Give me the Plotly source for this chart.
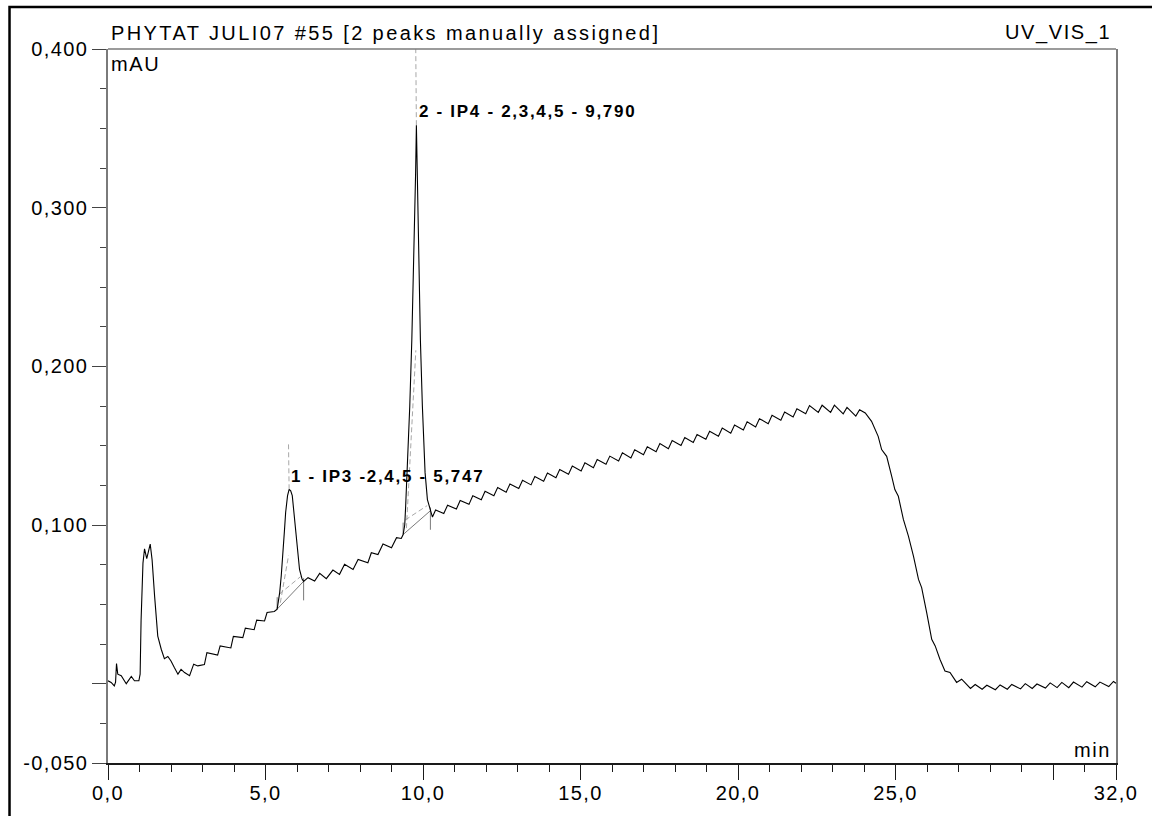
import plotly.graph_objects as go

# ---------------- data ----------------
TIME_MIN = [
    0.00, 0.10, 0.20, 0.24, 0.27, 0.31, 0.42, 0.58, 0.74, 0.84, 0.98, 1.02, 1.05, 1.11, 1.16, 1.23,
    1.34, 1.40, 1.48, 1.58, 1.69, 1.79, 1.90, 2.00, 2.11, 2.22, 2.32, 2.43, 2.59, 2.72, 2.85,
    3.06, 3.14, 3.30, 3.48, 3.56, 3.75, 3.90, 3.98, 4.28, 4.36, 4.64, 4.72, 4.97, 5.05, 5.28,
    5.37, 5.45, 5.50, 5.55, 5.60, 5.64, 5.70, 5.75, 5.80, 5.85, 5.92, 6.00, 6.08, 6.16, 6.21,
    6.35, 6.56, 6.72, 6.93, 7.14, 7.35, 7.51, 7.78, 7.94, 8.25, 8.36, 8.57, 8.73, 9.00, 9.16, 9.31,
    9.37, 9.42, 9.45, 9.50, 9.58, 9.645, 9.725, 9.765, 9.79, 9.82, 9.853, 9.917, 9.98, 10.066, 10.14, 10.235,
    10.30, 10.40, 10.66, 10.78, 11.06, 11.18, 11.46, 11.58, 11.85, 11.97, 12.25, 12.37, 12.64, 12.76,
    13.04, 13.16, 13.43, 13.55, 13.83, 13.95, 14.22, 14.34, 14.62, 14.74, 15.02, 15.14, 15.41, 15.53,
    15.81, 15.93, 16.21, 16.33, 16.60, 16.72, 17.00, 17.12, 17.40, 17.52, 17.79, 17.91, 18.19, 18.31,
    18.58, 18.70, 18.98, 19.10, 19.38, 19.50, 19.77, 19.89, 20.17, 20.29, 20.56, 20.68, 20.96, 21.08,
    21.36, 21.48, 21.75, 21.87, 22.15, 22.27, 22.55, 22.67, 22.94, 23.06, 23.34, 23.46, 23.74, 23.86,
    24.04, 24.24, 24.45, 24.56, 24.72, 24.88, 24.98, 25.09, 25.25, 25.41, 25.57, 25.73, 25.83, 25.99,
    26.15, 26.26, 26.41, 26.57, 26.73, 26.94, 27.10,
    27.38, 27.53, 27.75, 27.90, 28.17, 28.32, 28.55, 28.69, 28.97, 29.12, 29.34, 29.49, 29.76, 29.91,
    30.13, 30.28, 30.50, 30.65, 30.92, 31.07, 31.34, 31.49, 31.77, 31.92, 32.00,
]
SIGNAL_MAU = [
    0.0018, 0.0008, -0.0014, 0.0010, 0.0127, 0.0060, 0.0050, 0.0000, 0.0045, 0.0018, 0.0018, 0.0060, 0.0400, 0.0760, 0.0850, 0.0788,
    0.0880, 0.0780, 0.0550, 0.0300, 0.0217, 0.0158, 0.0171, 0.0143, 0.0100, 0.0060, 0.0090, 0.0070, 0.0050, 0.0123, 0.0112,
    0.0120, 0.0195, 0.0186, 0.0180, 0.0238, 0.0230, 0.0225, 0.0298, 0.0290, 0.0350, 0.0340, 0.0400, 0.0395, 0.0448, 0.0455,
    0.0470, 0.0574, 0.0680, 0.0800, 0.0960, 0.1080, 0.1185, 0.1225, 0.1215, 0.1185, 0.1055, 0.0867, 0.0720, 0.0660, 0.0645,
    0.0668, 0.0647, 0.0695, 0.0662, 0.0716, 0.0689, 0.0752, 0.0720, 0.0783, 0.0762, 0.0825, 0.0814, 0.0880, 0.0857, 0.0920, 0.0915,
    0.0940, 0.1000, 0.1120, 0.1330, 0.1750, 0.2167, 0.2796, 0.3215, 0.3520, 0.3215, 0.2796, 0.2167, 0.1750, 0.1330, 0.1160, 0.1090,
    0.1050, 0.1095, 0.1072, 0.1125, 0.1101, 0.1155, 0.1130, 0.1184, 0.1159, 0.1213, 0.1185, 0.1237, 0.1207, 0.1259,
    0.1230, 0.1282, 0.1253, 0.1305, 0.1276, 0.1328, 0.1298, 0.1350, 0.1320, 0.1371, 0.1341, 0.1392, 0.1361, 0.1413,
    0.1383, 0.1434, 0.1404, 0.1455, 0.1423, 0.1474, 0.1443, 0.1493, 0.1462, 0.1513, 0.1481, 0.1532, 0.1501, 0.1552,
    0.1520, 0.1571, 0.1540, 0.1591, 0.1560, 0.1611, 0.1579, 0.1630, 0.1599, 0.1650, 0.1618, 0.1670, 0.1639, 0.1691,
    0.1660, 0.1712, 0.1681, 0.1732, 0.1702, 0.1753, 0.1710, 0.1755, 0.1710, 0.1755, 0.1701, 0.1741, 0.1686, 0.1726,
    0.1706, 0.1653, 0.1559, 0.1475, 0.1433, 0.1307, 0.1223, 0.1181, 0.1035, 0.0930, 0.0804, 0.0657, 0.0605, 0.0448,
    0.0280, 0.0238, 0.0154, 0.0080, 0.0070, 0.0008, 0.0028,
    -0.0030, -0.0005, -0.0035, -0.0010, -0.0038, -0.0008, -0.0035, -0.0005, -0.0033, 0.0000, -0.0030, -0.0002, -0.0028, 0.0005,
    -0.0025, 0.0008, -0.0025, 0.0010, -0.0022, 0.0012, -0.0020, 0.0010, -0.0018, 0.0014, 0.0003,
]

PEAK_NAMES = ["1 - IP3 -2,4,5 - 5,747", "2 - IP4 - 2,3,4,5 - 9,790"]
PEAK_APEX_T = [5.75, 9.79]
PEAK_APEX_V = [0.1225, 0.3520]
PEAK_START_T = [5.37, 9.37]
PEAK_START_V = [0.0470, 0.0940]
PEAK_END_T = [6.21, 10.235]
PEAK_END_V = [0.0645, 0.1090]
PEAK_EXT_TOP = [0.1508, 0.4000]
LABEL_T = [5.76, 9.82]
LABEL_V = [0.1303, 0.3604]

X_TICKS = [0, 5, 10, 15, 20, 25, 30, 32]
X_TICK_TEXT = ["0,0", "5,0", "10,0", "15,0", "20,0", "25,0", "", "32,0"]
Y_TICKS = [-0.05, 0.0, 0.1, 0.2, 0.3, 0.4]
Y_TICK_TEXT = ["-0,050", "", "0,100", "0,200", "0,300", "0,400"]

TITLE_LEFT = "PHYTAT JULI07 #55 [2 peaks manually assigned]"
TITLE_RIGHT = "UV_VIS_1"
Y_UNIT = "mAU"
X_UNIT = "min"

FONT = "Liberation Sans, Arial, sans-serif"
GRAY = "#7a7a7a"
DASH_GRAY = "#a8a8a8"


def sp(text, ls=1.6):
    return f'<span style="letter-spacing:{ls}px">{text}</span>' if text else ""


fig = go.Figure()

# peak integration overlays (gray)
for i in range(len(PEAK_NAMES)):
    st, sv = PEAK_START_T[i], PEAK_START_V[i]
    et, ev = PEAK_END_T[i], PEAK_END_V[i]
    at, av = PEAK_APEX_T[i], PEAK_APEX_V[i]
    w = et - st
    slope = (ev - sv) / w
    fig.add_trace(go.Scatter(x=[st, et], y=[sv, ev], mode="lines",
                             line=dict(color=GRAY, width=1), hoverinfo="skip", showlegend=False))
    fig.add_trace(go.Scatter(x=[st, st, None, et, et], y=[sv, sv + 0.0075, None, ev - 0.012, ev + 0.002],
                             mode="lines", line=dict(color=GRAY, width=1), hoverinfo="skip", showlegend=False))
    fig.add_trace(go.Scatter(x=[at, at - 0.02], y=[av, PEAK_EXT_TOP[i]], mode="lines",
                             line=dict(color=DASH_GRAY, width=1, dash="5px,3px"), hoverinfo="skip", showlegend=False))
    t1, t2 = st + 0.08 * w, et - 0.12 * w
    fig.add_trace(go.Scatter(x=[t1, t2], y=[sv + slope * (t1 - st) + 0.008, sv + slope * (t2 - st) + 0.005],
                             mode="lines", line=dict(color=DASH_GRAY, width=1, dash="5px,3px"),
                             hoverinfo="skip", showlegend=False))
    fig.add_trace(go.Scatter(x=[st + 0.12 * w, at - 0.02 * w], y=[sv + 0.004, sv + 0.45 * (av - sv)],
                             mode="lines", line=dict(color=DASH_GRAY, width=1, dash="5px,3px"),
                             hoverinfo="skip", showlegend=False))

# chromatogram
fig.add_trace(go.Scatter(x=TIME_MIN, y=SIGNAL_MAU, mode="lines",
                         line=dict(color="#000000", width=1.1), showlegend=False))

# peak labels
for i in range(len(PEAK_NAMES)):
    fig.add_annotation(x=LABEL_T[i], y=LABEL_V[i], xref="x", yref="y",
                       text="<b>" + sp(PEAK_NAMES[i], 1.7) + "</b>", showarrow=False,
                       xanchor="left", yanchor="middle",
                       font=dict(family=FONT, size=17, color="#000"))

# header / unit texts
fig.add_annotation(x=0.001, y=1.004, xref="paper", yref="paper", text=sp(TITLE_LEFT, 2.4),
                   showarrow=False, xanchor="left", yanchor="bottom",
                   font=dict(family=FONT, size=20, color="#000"))
fig.add_annotation(x=0.997, y=1.004, xref="paper", yref="paper", text=sp(TITLE_RIGHT, 1.6),
                   showarrow=False, xanchor="right", yanchor="bottom",
                   font=dict(family=FONT, size=20, color="#000"))
fig.add_annotation(x=0.001, y=0.997, xref="paper", yref="paper", text=sp(Y_UNIT, 1.6),
                   showarrow=False, xanchor="left", yanchor="top",
                   font=dict(family=FONT, size=20, color="#000"))
fig.add_annotation(x=0.997, y=0.0, xref="paper", yref="paper", text=sp(X_UNIT, 1.6),
                   showarrow=False, xanchor="right", yanchor="bottom",
                   font=dict(family=FONT, size=20, color="#000"))

# outer frame and top axis line
fig.add_shape(type="rect", xref="paper", yref="paper", x0=-0.0977, x1=1.05, y0=-0.10, y1=1.0587,
              line=dict(color="#000", width=2.5), fillcolor="rgba(0,0,0,0)", layer="above")
fig.add_shape(type="line", xref="paper", yref="paper", x0=0, x1=1, y0=1, y1=1,
              line=dict(color=GRAY, width=1.5), layer="above")

fig.update_layout(
    width=1152, height=816,
    margin=dict(l=108, r=36, t=49, b=53, autoexpand=False),
    paper_bgcolor="white", plot_bgcolor="white",
    font=dict(family=FONT, size=20, color="#000"),
)
fig.update_xaxes(
    range=[0, 32], showgrid=False, zeroline=False, automargin=False,
    showline=True, linecolor="#1a1a1a", linewidth=1.5,
    ticks="outside", ticklen=15, tickwidth=1.2, tickcolor="#1a1a1a",
    tickvals=X_TICKS, ticktext=[sp(t, 1.4) for t in X_TICK_TEXT],
    tickfont=dict(family=FONT, size=20, color="#000"),
    ticklabelstandoff=-4,
    minor=dict(dtick=1, tick0=0, ticks="outside", ticklen=7, tickwidth=1.2, tickcolor="#1a1a1a"),
)
fig.update_yaxes(
    range=[-0.05, 0.4], showgrid=False, zeroline=False, automargin=False,
    showline=True, linecolor=GRAY, linewidth=1.5, mirror=True,
    ticks="outside", ticklen=14, tickwidth=1.2, tickcolor="#444",
    tickvals=Y_TICKS, ticktext=[sp(t, 1.4) for t in Y_TICK_TEXT],
    tickfont=dict(family=FONT, size=20, color="#000"),
    minor=dict(dtick=0.025, tick0=0, ticks="outside", ticklen=6, tickwidth=1.2, tickcolor="#444"),
)

fig.write_html("out.html")
